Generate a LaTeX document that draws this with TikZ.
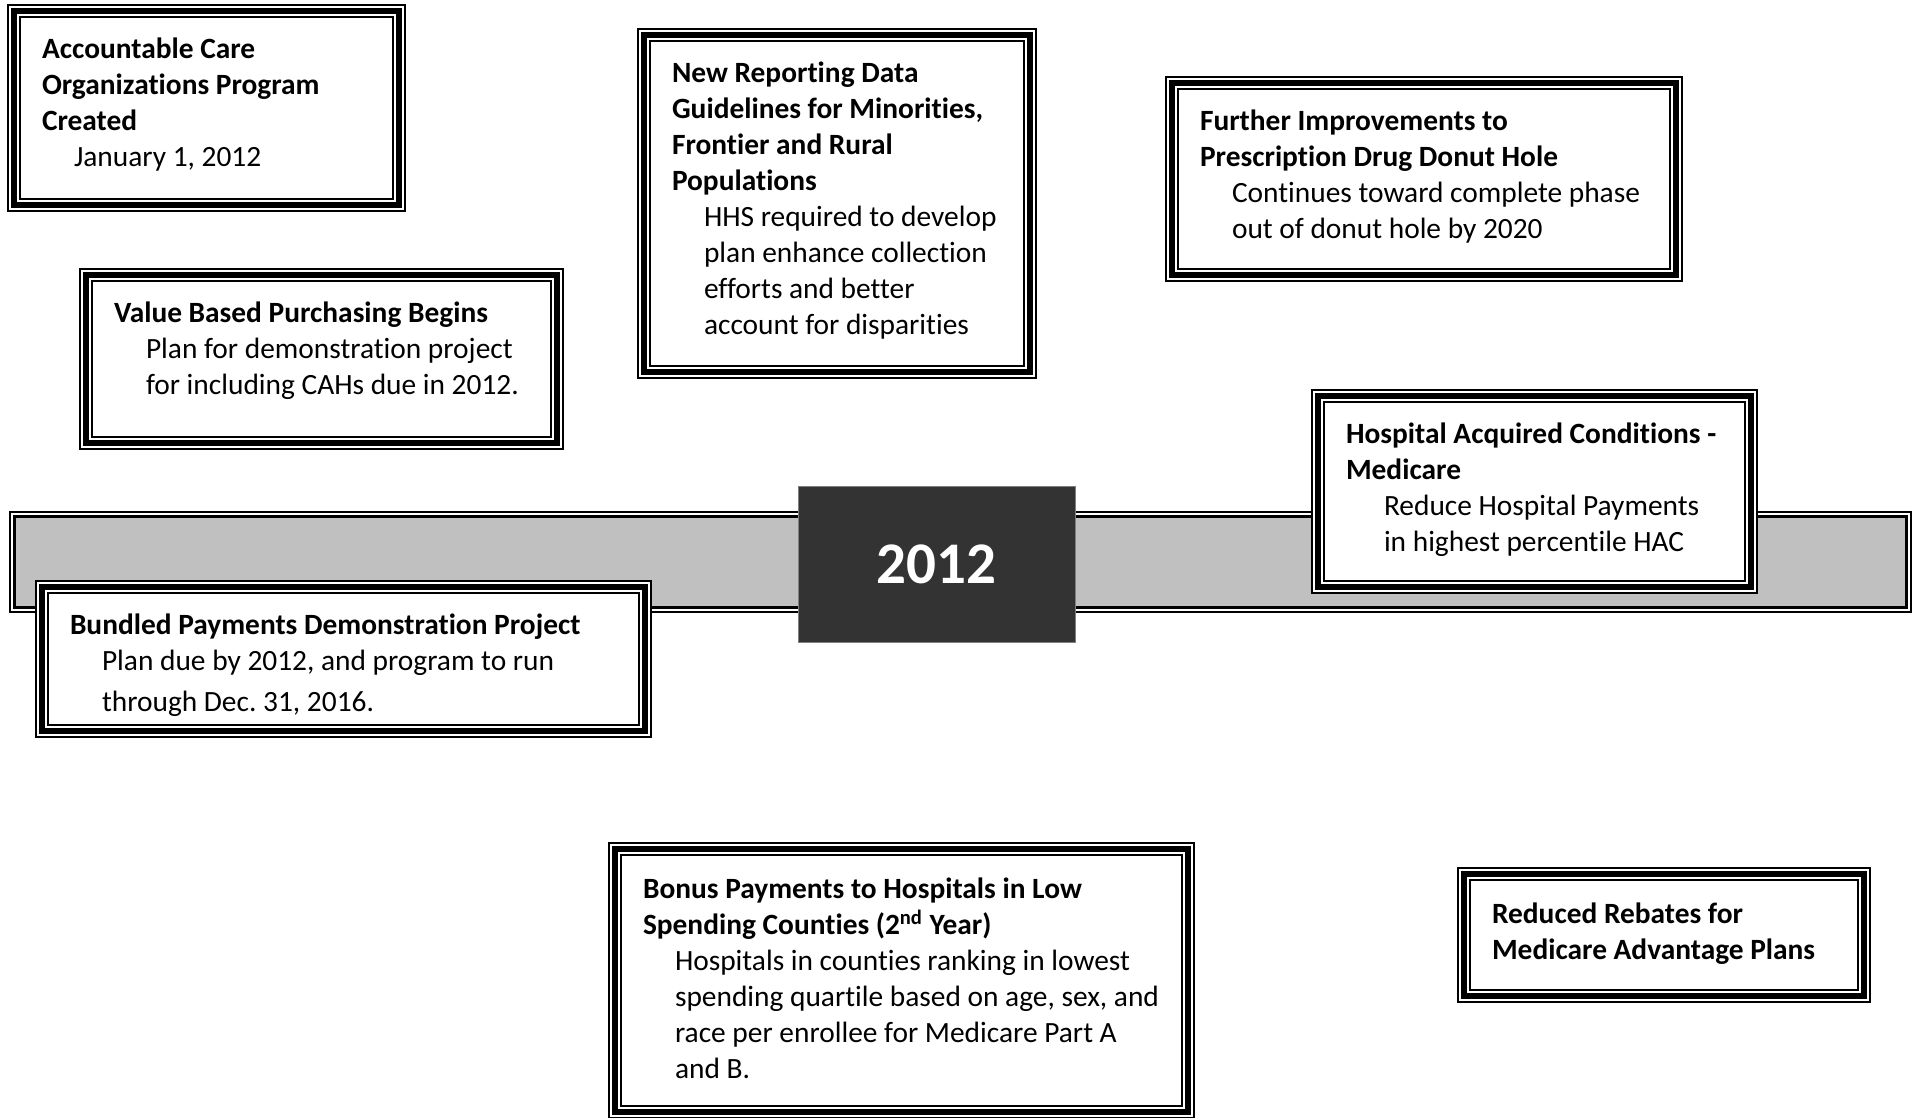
\documentclass[tikz,border=0pt]{standalone}
\usepackage{fontspec}
\setmainfont{Carlito}[Ligatures=NoCommon]
\usepackage{tikz}
\usetikzlibrary{positioning}
\frenchspacing

\definecolor{bargray}{HTML}{C0C0C0}
\definecolor{yeardark}{HTML}{333333}

\tikzset{
  frm/.style={rectangle,fill=white,inner sep=0pt},
  txt/.style={align=left,inner sep=0pt,font=\fontsize{14.7}{18}\selectfont},
}
\newcommand{\ind}{\hspace*{16pt}}
% three lines round a box: thin, thick, thin
\newcommand{\tframe}[1]{%
  \draw[line width=1pt] ([shift={(.5pt,-.5pt)}]#1.north west) rectangle ([shift={(-.5pt,.5pt)}]#1.south east);
  \draw[line width=3pt] ([shift={(3.5pt,-3.5pt)}]#1.north west) rectangle ([shift={(-3.5pt,3.5pt)}]#1.south east);
  \draw[line width=1pt] ([shift={(6.5pt,-6.5pt)}]#1.north west) rectangle ([shift={(-6.5pt,6.5pt)}]#1.south east);}

\begin{document}
\begin{tikzpicture}[x=0.5pt,y=-0.5pt]
  \useasboundingbox (0,0) rectangle (1917,1118);
  % time line
  \node[rectangle,fill=bargray,inner sep=0pt,minimum width=951.5pt,minimum height=51pt] (bar) at (960.5,562) {};
  \draw[line width=1pt] ([shift={(.5pt,-.5pt)}]bar.north west) rectangle ([shift={(-.5pt,.5pt)}]bar.south east);
  \draw[line width=1pt,white] ([shift={(1.5pt,-1.5pt)}]bar.north west) rectangle ([shift={(-1.5pt,1.5pt)}]bar.south east);
  \draw[line width=1.5pt] ([shift={(2.75pt,-2.75pt)}]bar.north west) rectangle ([shift={(-2.75pt,2.75pt)}]bar.south east);
  \node[rectangle,fill=yeardark,draw=black!50,line width=.5pt,minimum width=138.5pt,minimum height=78pt,
        text=white,font=\bfseries\fontsize{29.5}{30}\selectfont] (yr) at (936.5,564) {2012};

  % boxes
  \node[frm,minimum width=199.5pt,minimum height=104pt] (aco) at (206.5,108) {};
  \tframe{aco}
  \node[txt,below right=14.7pt and 17.5pt of aco.north west] (aco-t)
    {\strut\textbf{Accountable Care}\\ \textbf{Organizations Program}\\ \textbf{Created}\\ \ind January 1, 2012};

  \node[frm,minimum width=200pt,minimum height=175.5pt] (newrep) at (837,203.5) {};
  \tframe{newrep}
  \node[txt,below right=14.7pt and 17.5pt of newrep.north west] (newrep-t)
    {\strut\textbf{New Reporting Data}\\ \textbf{Guidelines for Minorities,}\\ \textbf{Frontier and Rural}\\ \textbf{Populations}\\
     \ind HHS required to develop\\ \ind plan enhance collection\\ \ind efforts and better\\ \ind account for disparities};

  \node[frm,minimum width=259pt,minimum height=103pt] (donut) at (1424,179) {};
  \tframe{donut}
  \node[txt,below right=14.7pt and 17.5pt of donut.north west] (donut-t)
    {\strut\textbf{Further Improvements to}\\ \textbf{Prescription Drug Donut Hole}\\
     \ind Continues toward complete phase\\ \ind out of donut hole by 2020};

  \node[frm,minimum width=242.5pt,minimum height=91pt] (vbp) at (321.5,359) {};
  \tframe{vbp}
  \node[txt,below right=14.7pt and 17.5pt of vbp.north west] (vbp-t)
    {\strut\textbf{Value Based Purchasing Begins}\\
     \ind Plan for demonstration project\\ \ind for including CAHs due in 2012.};

  \node[frm,minimum width=223.5pt,minimum height=102.5pt] (hac) at (1534.5,491.5) {};
  \tframe{hac}
  \node[txt,below right=14.7pt and 17.5pt of hac.north west] (hac-t)
    {\strut\textbf{Hospital Acquired Conditions -}\\ \textbf{Medicare}\\
     \ind\hspace*{3pt}Reduce Hospital Payments\\ \ind\hspace*{3pt}in highest percentile HAC};

  \node[frm,minimum width=308.5pt,minimum height=79pt] (bundled) at (343.5,659) {};
  \tframe{bundled}
  \node[txt,below right=14.7pt and 17.5pt of bundled.north west] (bundled-t)
    {\strut\textbf{Bundled Payments Demonstration Project}\\
     \ind Plan due by 2012, and program to run\\[2.5pt] \ind through Dec. 31, 2016.};

  \node[frm,minimum width=293.5pt,minimum height=138.5pt] (bonus) at (901.5,980.5) {};
  \tframe{bonus}
  \node[txt,below right=15.8pt and 17.5pt of bonus.north west] (bonus-t)
    {\strut\textbf{Bonus Payments to Hospitals in Low}\\ \textbf{Spending Counties (2\textsuperscript{nd} Year)}\\
     \ind Hospitals in counties ranking in lowest\\ \ind spending quartile based on age, sex, and\\
     \ind race per enrollee for Medicare Part A\\ \ind and B.};

  \node[frm,minimum width=207pt,minimum height=68pt] (rebates) at (1664,935) {};
  \tframe{rebates}
  \node[txt,below right=15.5pt and 17.5pt of rebates.north west] (rebates-t)
    {\strut\textbf{Reduced Rebates for}\\ \textbf{Medicare Advantage Plans}};
\end{tikzpicture}
\end{document}
